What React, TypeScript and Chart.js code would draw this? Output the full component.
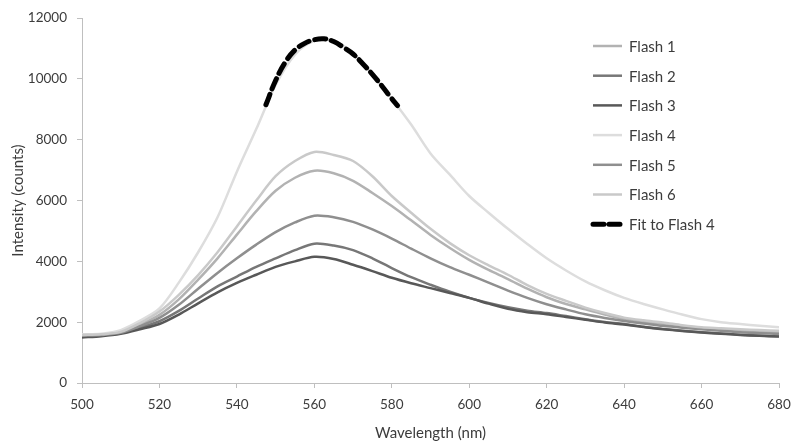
import React, { useEffect, useRef } from "react";
import { Chart, registerables } from "chart.js";

Chart.register(...registerables);

const wavelengths = [
  500, 505, 510, 515, 520, 525, 530, 535, 540, 545, 550, 555, 560, 565, 570, 575, 580, 585,
  590, 595, 600, 605, 610, 615, 620, 625, 630, 635, 640, 645, 650, 655, 660, 665, 670, 675, 680,
];

const flash1 = [
  1560, 1590, 1660, 1920, 2240, 2750, 3400, 4100, 4880, 5650, 6320, 6750, 6980, 6900, 6650, 6250, 5820, 5350,
  4870, 4440, 4050, 3720, 3420, 3100, 2820, 2600, 2420, 2250, 2100, 2010, 1940, 1860, 1800, 1760, 1720, 1690, 1660,
];
const flash2 = [
  1520, 1560, 1640, 1820, 2030, 2370, 2780, 3180, 3500, 3820, 4100, 4370, 4580, 4520, 4370, 4100, 3780, 3480,
  3230, 3000, 2800, 2630, 2490, 2380, 2300, 2200, 2100, 2010, 1940, 1850, 1780, 1720, 1670, 1630, 1590, 1560, 1540,
];
const flash3 = [
  1500, 1540, 1620, 1770, 1940, 2250, 2620, 2980, 3290, 3560, 3820, 4000, 4150, 4080, 3890, 3680, 3460, 3280,
  3120, 2960, 2800, 2610, 2440, 2330, 2260, 2170, 2080, 1990, 1920, 1840, 1770, 1710, 1660, 1620, 1580, 1550, 1530,
];
const flash4 = [
  1600, 1620, 1740, 2050, 2450, 3300, 4300, 5450, 6950, 8350, 9800, 10800, 11250, 11250, 10850, 10150, 9350, 8500,
  7550, 6850, 6150, 5600, 5070, 4570, 4100, 3700, 3340, 3050, 2800, 2600, 2420, 2250, 2100, 2000, 1940, 1880, 1830,
];
const flash5 = [
  1550, 1580, 1650, 1870, 2140, 2570, 3100, 3620, 4100, 4550, 4960, 5280, 5500, 5450, 5300, 5050, 4750, 4420,
  4100, 3810, 3560, 3300, 3040, 2800, 2590, 2420, 2260, 2140, 2040, 1960, 1880, 1820, 1770, 1720, 1670, 1640, 1610,
];
const flash6 = [
  1580, 1600, 1680, 1970, 2350, 2900, 3550, 4300, 5150, 6000, 6800, 7300, 7600, 7500, 7300, 6800, 6150, 5600,
  5070, 4600, 4200, 3870, 3560, 3220, 2930, 2700, 2480, 2300, 2150, 2060, 1990, 1900, 1830, 1800, 1770, 1740, 1720,
];

const fitWavelengths = [547.5, 550, 552.5, 555, 557.5, 560, 562.5, 565, 567.5, 570, 572.5, 575, 577.5, 580, 581.5];
const fitValues = [9150, 9950, 10550, 10950, 11170, 11290, 11320, 11230, 11040, 10820, 10500, 10150, 9760, 9350, 9120];

const seriesLabels = ["Flash 1", "Flash 2", "Flash 3", "Flash 4", "Flash 5", "Flash 6", "Fit to Flash 4"];
const seriesColors = ["#b2b2b2", "#777777", "#585858", "#dddddd", "#8f8f8f", "#c9c9c9", "#000000"];

const xTicks = [500, 520, 540, 560, 580, 600, 620, 640, 660, 680];
const yTicks = [0, 2000, 4000, 6000, 8000, 10000, 12000];

const FONT = "Lato, 'Open Sans', sans-serif";
const TEXT = "#3c3c3c";

const toPoints = (xs: number[], ys: number[]) => xs.map((x, i) => ({ x, y: ys[i] }));

const legendPlugin = {
  id: "insideLegend",
  afterDraw(chart: any) {
    const ctx = chart.ctx;
    const x0 = 593;
    const y0 = 46;
    const gap = 29.7;
    ctx.save();
    ctx.font = `15px ${FONT}`;
    ctx.textBaseline = "middle";
    ctx.fillStyle = TEXT;
    chart.data.datasets.forEach((ds: any, i: number) => {
      const y = y0 + i * gap;
      ctx.beginPath();
      ctx.strokeStyle = ds.borderColor;
      ctx.lineWidth = ds.borderWidth;
      if (ds.borderDash && ds.borderDash.length) {
        ctx.setLineDash([11, 5]);
        ctx.lineCap = "round";
      } else {
        ctx.setLineDash([]);
        ctx.lineCap = "butt";
      }
      ctx.moveTo(x0, y);
      ctx.lineTo(x0 + 29, y);
      ctx.stroke();
      ctx.setLineDash([]);
      ctx.fillStyle = TEXT;
      ctx.fillText(ds.label, x0 + 36, y + 1);
    });
    ctx.restore();
  },
};

export default function App() {
  const ref = useRef<HTMLCanvasElement | null>(null);

  useEffect(() => {
    document.body.style.margin = "0";
    const series = [flash1, flash2, flash3, flash4, flash5, flash6];
    const datasets: any[] = series.map((vals, i) => ({
      label: seriesLabels[i],
      data: toPoints(wavelengths, vals),
      borderColor: seriesColors[i],
      backgroundColor: seriesColors[i],
      borderWidth: 2.5,
      pointRadius: 0,
      tension: 0.3,
      fill: false,
      order: 6 - i,
    }));
    datasets.push({
      label: seriesLabels[6],
      data: toPoints(fitWavelengths, fitValues),
      borderColor: seriesColors[6],
      backgroundColor: seriesColors[6],
      borderWidth: 5,
      borderDash: [11, 6],
      borderCapStyle: "round",
      pointRadius: 0,
      tension: 0.4,
      fill: false,
      order: 0,
    });

    const gridCfg = {
      display: true,
      drawOnChartArea: false,
      drawTicks: true,
      tickLength: 5,
      color: "#bfbfbf",
      lineWidth: 1,
    };

    const chart = new Chart(ref.current as HTMLCanvasElement, {
      type: "line",
      data: { datasets },
      plugins: [legendPlugin],
      options: {
        animation: false,
        responsive: false,
        maintainAspectRatio: false,
        layout: { padding: { top: 13, right: 21, left: 0, bottom: 0 } },
        plugins: { legend: { display: false }, tooltip: { enabled: false } },
        scales: {
          x: {
            type: "linear",
            min: 500,
            max: 680,
            afterBuildTicks: (scale: any) => {
              scale.ticks = xTicks.map((v) => ({ value: v }));
            },
            afterFit: (scale: any) => {
              scale.height = 63;
            },
            grid: gridCfg,
            border: { display: true, color: "#bfbfbf", width: 1 },
            ticks: { color: TEXT, font: { family: FONT, size: 13.5 }, padding: 9, maxRotation: 0 },
            title: {
              display: true,
              text: "Wavelength (nm)",
              color: TEXT,
              font: { family: FONT, size: 15 },
              padding: { top: 4, bottom: 4 },
            },
          },
          y: {
            type: "linear",
            min: 0,
            max: 12000,
            afterBuildTicks: (scale: any) => {
              scale.ticks = yTicks.map((v) => ({ value: v }));
            },
            afterFit: (scale: any) => {
              scale.width = 82;
            },
            grid: gridCfg,
            border: { display: true, color: "#bfbfbf", width: 1 },
            ticks: {
              color: TEXT,
              font: { family: FONT, size: 13.5 },
              padding: 10,
              callback: (v: any) => String(v),
            },
            title: {
              display: true,
              text: "Intensity (counts)",
              color: TEXT,
              font: { family: FONT, size: 15 },
              padding: { top: 9, bottom: 4 },
            },
          },
        },
      },
    });
    return () => chart.destroy();
  }, []);

  return (
    <div style={{ width: 800, height: 446, background: "#fff" }}>
      <canvas ref={ref} width={800} height={446} style={{ display: "block" }} />
    </div>
  );
}
